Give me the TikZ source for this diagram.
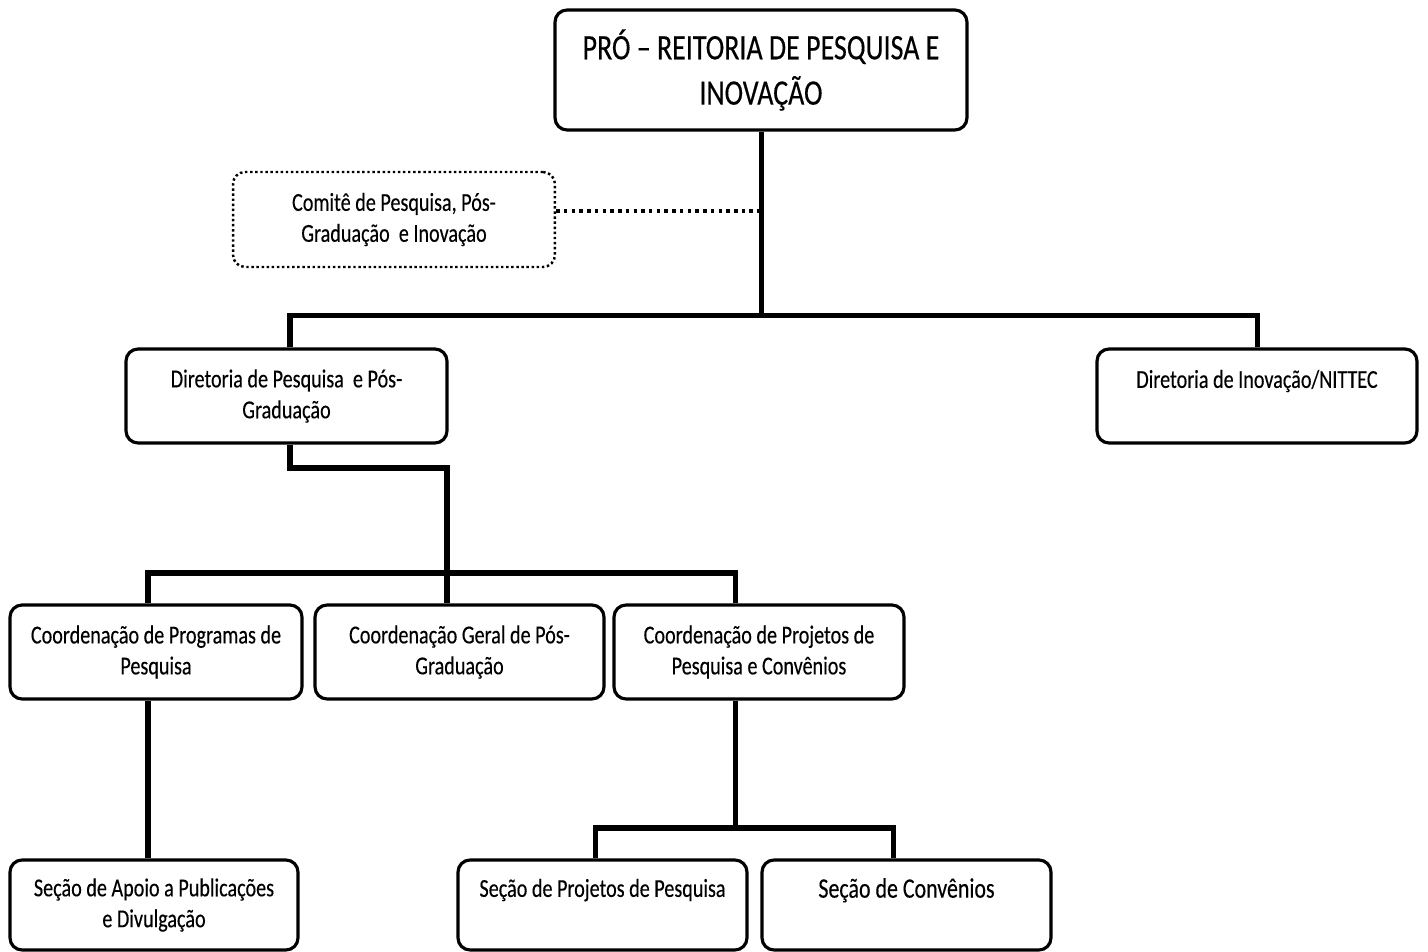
\documentclass[tikz,border=0pt]{standalone}
\usepackage{fontspec}
\setmainfont{Carlito}[FakeStretch=0.78, FakeBold=0.3]
\tikzset{
  orgbox/.style={draw, line width=1.8pt, rounded corners=0.24cm, align=center, inner sep=0pt,
    minimum height=1.88cm, font=\fontsize{14.7}{17.6}\selectfont,
    execute at begin node={\rule{0pt}{0.62cm}}},
  dotbox/.style={orgbox, line width=1.4pt, dash pattern=on 1.4pt off 1.5pt},
  conn/.style={line width=2.85pt},
  dotconn/.style={line width=2.4pt, dash pattern=on 2pt off 2.4pt}
}
\begin{document}
\begin{tikzpicture}[x=0.02cm, y=-0.02cm]
\useasboundingbox (0,0) rectangle (1428,952);

\node[orgbox, minimum width=8.24cm, minimum height=2.4cm, font=\fontsize{20.4}{25.8}\selectfont] (reitoria) at (761,70) {PRÓ – REITORIA DE PESQUISA E\\INOVAÇÃO};
\node[dotbox, minimum width=6.44cm, minimum height=1.9cm] (comite) at (394,219.5) {Comitê de Pesquisa, Pós-\\Graduação\ \ e Inovação};

\node[orgbox, minimum width=6.42cm] (dirpesq) at (286.5,396) {Diretoria de Pesquisa\ \ e Pós-\\Graduação};
\node[orgbox, minimum width=6.4cm] (dirinov) at (1257,396) {Diretoria de Inovação/NITTEC\\[-0.12cm]\strut};

\node[orgbox, minimum width=5.84cm] (coordprog) at (156,652) {Coordenação de Programas de\\Pesquisa};
\node[orgbox, minimum width=5.78cm] (coordgeral) at (459.5,652) {Coordenação Geral de Pós-\\Graduação};
\node[orgbox, minimum width=5.8cm] (coordproj) at (759,652) {Coordenação de Projetos de\\Pesquisa e Convênios};

\node[orgbox, minimum width=5.76cm, minimum height=1.8cm] (secapoio) at (154,905) {Seção de Apoio a Publicações\\e Divulgação};
\node[orgbox, minimum width=5.78cm, minimum height=1.8cm] (secproj) at (602.5,905) {Seção de Projetos de Pesquisa\\[-0.12cm]\strut};
\node[orgbox, minimum width=5.78cm, minimum height=1.8cm, font=\fontsize{16}{17.6}\selectfont] (secconv) at (906.5,905) {Seção de Convênios\\[-0.12cm]\strut};

\coordinate (trunk) at (761,316);
\coordinate (dotend) at (761,211);
\coordinate (busL) at (290,316);
\coordinate (busR) at (1257,316);
\coordinate (elbow) at (290,468);
\coordinate (elbowR) at (447,468);
\coordinate (bus2L) at (148,573);
\coordinate (bus2R) at (735,573);
\coordinate (bus3) at (735,828);
\coordinate (bus3L) at (595,828);
\coordinate (bus3R) at (893,828);

\draw[conn] (reitoria.south) -- (trunk);
\draw[conn] (dirpesq.north -| busL) -- (busL) -- (busR) -- (dirinov.north);
\draw[conn] (dirpesq.south -| elbow) -- (elbow) -- (elbowR) -- (coordgeral.north -| elbowR);
\draw[conn] (coordprog.north -| bus2L) -- (bus2L) -- (bus2R) -- (coordproj.north -| bus2R);
\draw[conn] (coordprog.south -| bus2L) -- (secapoio.north -| bus2L);
\draw[conn] (coordproj.south -| bus3) -- (bus3);
\draw[conn] (secproj.north -| bus3L) -- (bus3L) -- (bus3R) -- (secconv.north -| bus3R);
\draw[dotconn] (comite.east |- dotend) -- (dotend);
\end{tikzpicture}
\end{document}
